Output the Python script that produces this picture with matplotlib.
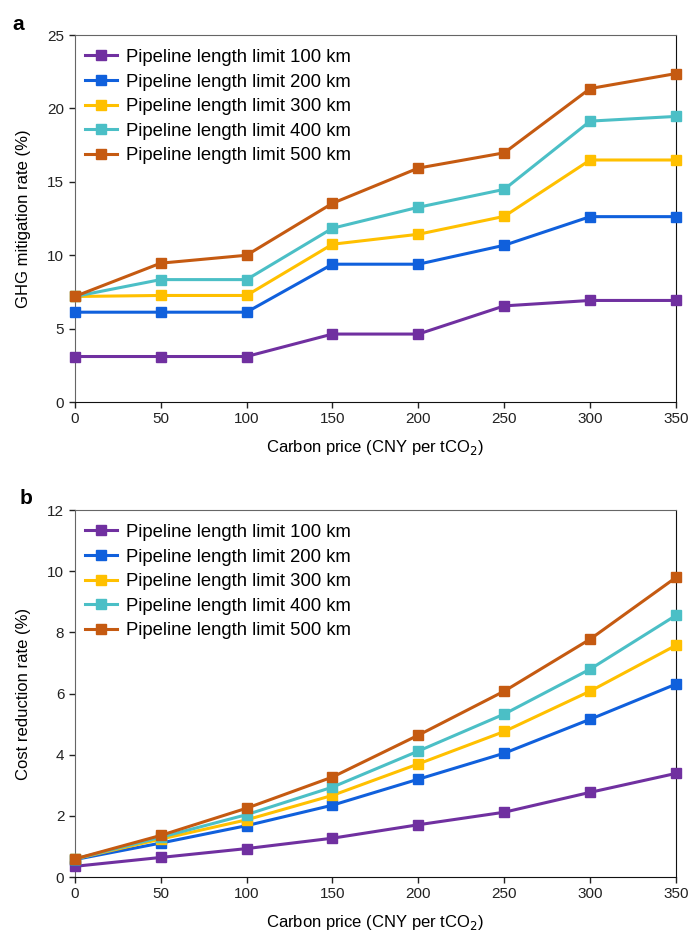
import matplotlib
matplotlib.use('Agg')
import matplotlib.pyplot as plt

plt.rcParams['font.family'] = ['Liberation Sans', 'DejaVu Sans']

carbon_price = [0, 50, 100, 150, 200, 250, 300, 350]
labels = ['Pipeline length limit 100 km', 'Pipeline length limit 200 km',
          'Pipeline length limit 300 km', 'Pipeline length limit 400 km',
          'Pipeline length limit 500 km']
colors = ['#7030A0', '#1060DC', '#FFC000', '#4BBFC6', '#C55A11']

# panel a: GHG mitigation rate (%)
ghg_100 = [3.1, 3.1, 3.1, 4.63, 4.63, 6.55, 6.92, 6.92]
ghg_200 = [6.12, 6.12, 6.12, 9.39, 9.39, 10.68, 12.63, 12.63]
ghg_300 = [7.19, 7.26, 7.26, 10.75, 11.43, 12.65, 16.49, 16.49]
ghg_400 = [7.19, 8.34, 8.34, 11.84, 13.27, 14.49, 19.14, 19.46]
ghg_500 = [7.19, 9.46, 10.0, 13.54, 15.94, 16.98, 21.36, 22.38]

# panel b: cost reduction rate (%)
cost_100 = [0.35, 0.64, 0.93, 1.27, 1.71, 2.12, 2.77, 3.39]
cost_200 = [0.57, 1.11, 1.68, 2.35, 3.20, 4.05, 5.16, 6.31]
cost_300 = [0.59, 1.24, 1.87, 2.67, 3.70, 4.76, 6.08, 7.58]
cost_400 = [0.59, 1.30, 2.04, 2.94, 4.12, 5.33, 6.80, 8.56]
cost_500 = [0.59, 1.36, 2.25, 3.27, 4.64, 6.08, 7.78, 9.80]

fig = plt.figure(figsize=(6.92, 9.36), dpi=100)
ax1 = fig.add_axes([0.108, 0.5705, 0.869, 0.392])
ax2 = fig.add_axes([0.108, 0.063, 0.869, 0.392])


def draw(ax, series, ymax, ystep, ylabel):
    for s, c, lab in zip(series, colors, labels):
        ax.plot(carbon_price, s, color=c, lw=2.2, marker='s', ms=7,
                label=lab, clip_on=False, zorder=3)
    ax.set_xlim(0, 350)
    ax.set_ylim(0, ymax)
    ax.set_xticks(carbon_price)
    ax.set_yticks(range(0, ymax + 1, ystep))
    ax.tick_params(labelsize=11, length=4, width=1, colors='#222222')
    for sp in ['left', 'top']:
        ax.spines[sp].set_color('#666666')
    for sp in ['bottom', 'right']:
        ax.spines[sp].set_color('#111111')
    ax.set_xlabel('Carbon price (CNY per tCO$_2$)', fontsize=12, labelpad=8)
    ax.set_ylabel(ylabel, fontsize=12, labelpad=12)
    ax.legend(loc='upper left', frameon=False, fontsize=13.3,
              handlelength=1.75, handletextpad=0.45, labelspacing=0.41,
              borderaxespad=0.15, bbox_to_anchor=(0.0, 0.99))


draw(ax1, [ghg_100, ghg_200, ghg_300, ghg_400, ghg_500], 25, 5,
     'GHG mitigation rate (%)')
draw(ax2, [cost_100, cost_200, cost_300, cost_400, cost_500], 12, 2,
     'Cost reduction rate (%)')

fig.text(0.018, 0.968, 'a', fontsize=15, fontweight='bold')
fig.text(0.028, 0.462, 'b', fontsize=15, fontweight='bold')

fig.savefig('out.png', dpi=100)
